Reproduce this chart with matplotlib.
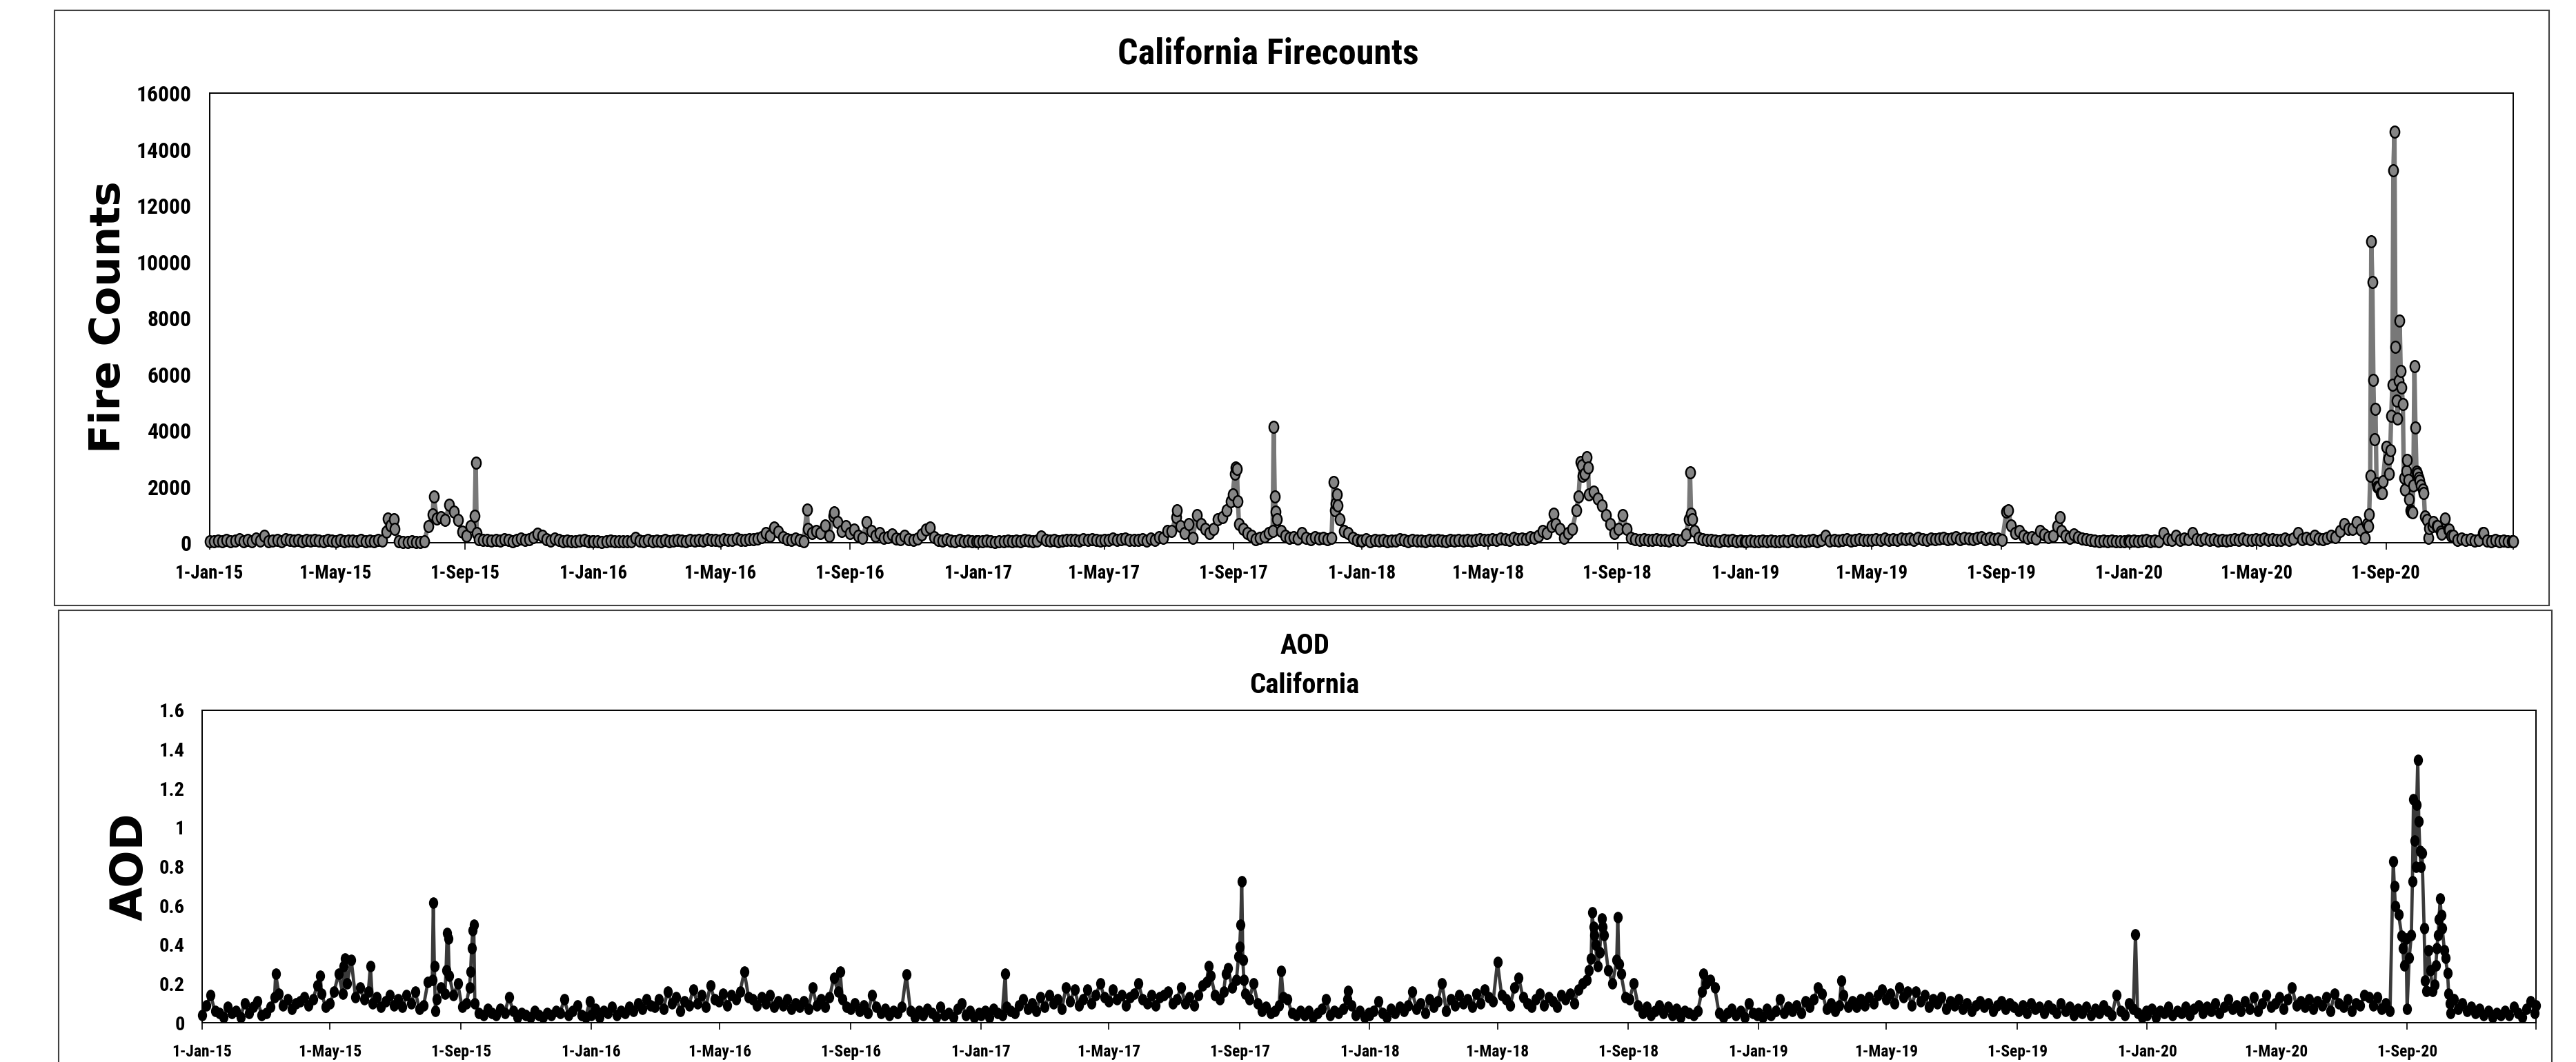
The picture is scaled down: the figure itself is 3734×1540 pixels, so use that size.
import numpy as np
import pandas as pd
import matplotlib
matplotlib.use("Agg")
import matplotlib.pyplot as plt
import matplotlib.dates as mdates
from matplotlib.path import Path
from matplotlib.patches import Rectangle
from matplotlib import font_manager as fm

# ---------------- DATA ----------------
# Fire counts sampled every 4 days from 1 January of each year (92 values per year)
fire_2015 = [60, 40, 80, 50, 90, 40, 70, 120,
             60, 90, 50, 150, 70, 250, 60,
             80, 100, 60, 120, 90, 70, 100, 60,
             90, 70, 110, 80, 60, 100, 70,
             60, 90, 50, 80, 70, 60, 90, 50,
             70, 60, 90, 80, 400, 620, 500, 40,
             30, 20, 40, 20, 30, 60, 600,
             1000, 870, 910, 800, 1350, 1100, 800, 400,
             250, 580, 950, 130, 90, 110, 70, 90,
             80, 120, 100, 60, 90, 150, 110,
             130, 200, 330, 250, 120, 80, 150, 90,
             60, 80, 50, 40, 70, 90, 50, 40]
fire_2016 = [40, 60, 30, 50, 70, 40, 60, 50,
             60, 40, 170, 80, 50, 90, 60,
             70, 50, 90, 60, 80, 100, 70, 60,
             90, 70, 100, 80, 120, 90, 110,
             80, 120, 100, 90, 140, 110, 100, 130,
             120, 150, 200, 335, 250, 540, 400, 200,
             120, 90, 150, 100, 60, 500, 335,
             417, 335, 620, 254, 950, 745, 417, 580,
             335, 460, 254, 170, 745, 417, 254, 335,
             170, 200, 295, 150, 120, 254, 130,
             90, 150, 300, 460, 540, 200, 100, 80,
             120, 80, 60, 90, 50, 70, 40, 60]
fire_2017 = [60, 40, 80, 50, 30, 60, 40, 70,
             50, 80, 60, 90, 70, 50, 80,
             213, 90, 70, 100, 60, 80, 110, 90,
             100, 80, 120, 90, 130, 100, 80,
             110, 90, 140, 100, 120, 150, 110, 90,
             90, 120, 80, 150, 110, 200, 170, 420,
             420, 910, 600, 335, 660, 170, 990,
             660, 500, 335, 500, 826, 910, 1150, 1480,
             2460, 660, 500, 335, 254, 130, 170, 213,
             335, 420, 826, 420, 254, 170, 200,
             150, 335, 170, 120, 200, 150, 170, 120,
             170, 1400, 826, 420, 335, 170, 100, 80]
fire_2018 = [80, 120, 60, 100, 70, 90, 60, 80,
             70, 130, 90, 60, 100, 80, 70,
             60, 90, 70, 100, 80, 60, 90, 70,
             90, 70, 110, 80, 100, 120, 90,
             100, 130, 90, 150, 120, 110, 170, 130,
             150, 120, 200, 170, 250, 420, 335, 600,
             660, 500, 170, 335, 500, 1150, 2870,
             2460, 1726, 1810, 1560, 1320, 990, 660, 335,
             500, 990, 500, 170, 130, 100, 120, 90,
             100, 130, 90, 110, 80, 120, 100,
             90, 300, 2500, 420, 170, 120, 90, 110,
             80, 60, 90, 70, 100, 60, 80, 50]
fire_2019 = [50, 70, 40, 60, 80, 50, 70, 60,
             40, 70, 60, 90, 50, 80, 60,
             70, 100, 60, 90, 254, 80, 100, 70,
             90, 120, 80, 100, 130, 90, 110,
             100, 120, 90, 140, 110, 130, 100, 150,
             120, 150, 100, 170, 130, 110, 150, 120,
             140, 170, 120, 150, 200, 130, 170,
             150, 120, 170, 200, 130, 160, 120, 150,
             90, 1112, 620, 335, 420, 254, 170, 200,
             150, 420, 295, 200, 254, 580, 420,
             254, 170, 295, 200, 150, 120, 90, 70,
             60, 80, 50, 70, 40, 60, 50, 70]
fire_2020 = [60, 80, 50, 70, 90, 60, 70, 50,
             335, 120, 100, 254, 90, 150, 120,
             335, 130, 100, 150, 90, 120, 80, 110,
             80, 100, 130, 90, 150, 110, 90,
             120, 100, 150, 90, 130, 110, 100, 140,
             100, 150, 335, 120, 170, 130, 254, 150,
             130, 170, 254, 200, 420, 660, 500,
             500, 745, 460, 170, 1005, 5797, 2000, 1763,
             3415, 3277, 14637, 5756, 4943, 2933, 1100, 4103,
             2200, 1763, 179, 600, 592, 400, 867,
             454, 248, 110, 150, 90, 120, 70, 100,
             344, 80, 60, 100, 50, 70, 40, 60]

# Fire counts on individual days (spikes and fire episodes)
fire_event_dates = [
    "2015-06-19", "2015-06-25", "2015-08-02", "2015-09-11", "2015-09-12",
    "2016-07-22", "2016-08-17",
    "2017-07-09", "2017-08-31", "2017-09-03", "2017-09-04", "2017-09-05",
    "2017-10-09", "2017-10-10", "2017-10-11", "2017-12-05", "2017-12-06",
    "2017-12-08", "2017-12-09",
    "2018-07-02", "2018-07-26", "2018-07-29", "2018-07-30", "2018-08-03",
    "2018-08-04", "2018-11-08", "2018-11-10", "2018-11-11",
    "2019-09-08", "2019-10-27",
    "2020-08-14", "2020-08-15", "2020-08-17", "2020-08-18", "2020-08-19",
    "2020-08-20", "2020-08-21", "2020-08-22", "2020-08-23", "2020-08-25",
    "2020-08-27", "2020-08-29",
    "2020-09-01", "2020-09-03", "2020-09-04", "2020-09-05", "2020-09-06",
    "2020-09-07", "2020-09-08", "2020-09-09", "2020-09-10", "2020-09-11",
    "2020-09-12", "2020-09-13", "2020-09-14", "2020-09-15", "2020-09-16",
    "2020-09-17", "2020-09-18", "2020-09-19", "2020-09-20", "2020-09-21",
    "2020-09-22", "2020-09-23", "2020-09-24", "2020-09-26", "2020-09-27",
    "2020-09-28", "2020-09-29", "2020-09-30",
    "2020-10-01", "2020-10-02", "2020-10-04", "2020-10-06", "2020-10-07",
    "2020-10-08", "2020-10-10", "2020-10-11", "2020-10-12", "2020-10-16",
    "2020-10-20", "2020-10-24", "2020-10-27", "2020-10-30", "2020-11-02",
    "2020-12-03", "2020-12-31"]
fire_event_vals = [
    870, 840, 1644, 2850, 335,
    1170, 1090,
    1150, 1726, 2670, 2625, 1480,
    4115, 1644, 1112, 2150, 1150,
    1726, 1320,
    1030, 1644, 2750, 2380, 3035,
    2670, 826, 1030, 826,
    1150, 910,
    660, 592, 2382, 10713, 9267,
    5797, 3690, 4764, 2107, 1969,
    1763, 2176,
    3415, 3002, 2451, 3277, 4517,
    5618, 13260, 14637, 6968, 5054,
    4407, 5756, 7890, 6100, 5522,
    4943, 2313, 1900, 2548, 2933,
    2244, 1556, 1143, 1074, 2038,
    6279, 4103, 2520,
    2451, 2313, 2038, 1900, 1763,
    936, 800, 179, 523, 730,
    592, 316, 867, 454, 248,
    344, 50]

# AOD sampled every 4 days from 1 January of each year (92 values per year)
aod_2015 = [0.04, 0.09, 0.14, 0.06, 0.05, 0.03, 0.08, 0.05,
            0.06, 0.03, 0.10, 0.05, 0.08, 0.11, 0.04,
            0.05, 0.08, 0.13, 0.15, 0.09, 0.12, 0.07, 0.10,
            0.11, 0.13, 0.09, 0.12, 0.19, 0.15, 0.08,
            0.10, 0.16, 0.19, 0.15, 0.20, 0.17, 0.13, 0.18,
            0.12, 0.16, 0.10, 0.13, 0.08, 0.11, 0.14, 0.09,
            0.12, 0.08, 0.14, 0.10, 0.16, 0.07, 0.09,
            0.21, 0.26, 0.12, 0.18, 0.15, 0.24, 0.14, 0.20,
            0.08, 0.10, 0.26, 0.10, 0.05, 0.04, 0.07, 0.05,
            0.04, 0.07, 0.05, 0.13, 0.06, 0.03, 0.05,
            0.04, 0.03, 0.06, 0.04, 0.03, 0.05, 0.04, 0.06,
            0.05, 0.12, 0.04, 0.06, 0.09, 0.04, 0.03, 0.11]
aod_2016 = [0.04, 0.07, 0.03, 0.06, 0.05, 0.08, 0.04, 0.06,
            0.05, 0.08, 0.06, 0.10, 0.07, 0.12, 0.09,
            0.08, 0.12, 0.07, 0.16, 0.10, 0.13, 0.06, 0.11,
            0.09, 0.17, 0.10, 0.14, 0.08, 0.19, 0.12,
            0.11, 0.15, 0.09, 0.14, 0.12, 0.16, 0.10, 0.13,
            0.12, 0.09, 0.13, 0.10, 0.14, 0.08, 0.11, 0.09,
            0.12, 0.07, 0.10, 0.08, 0.11, 0.07, 0.18,
            0.09, 0.12, 0.08, 0.13, 0.23, 0.16, 0.12, 0.08,
            0.07, 0.10, 0.06, 0.09, 0.05, 0.14, 0.08, 0.05,
            0.07, 0.04, 0.06, 0.05, 0.08, 0.04, 0.06,
            0.03, 0.06, 0.04, 0.07, 0.05, 0.03, 0.08, 0.04,
            0.05, 0.03, 0.07, 0.10, 0.04, 0.06, 0.03, 0.05]
aod_2017 = [0.04, 0.06, 0.03, 0.07, 0.05, 0.04, 0.08, 0.06,
            0.05, 0.09, 0.12, 0.07, 0.10, 0.06, 0.13,
            0.08, 0.14, 0.10, 0.12, 0.07, 0.18, 0.11, 0.17,
            0.09, 0.12, 0.17, 0.10, 0.14, 0.20, 0.13,
            0.11, 0.17, 0.12, 0.14, 0.09, 0.13, 0.15, 0.20,
            0.12, 0.10, 0.14, 0.09, 0.13, 0.14, 0.16, 0.10,
            0.12, 0.18, 0.10, 0.13, 0.09, 0.14, 0.19,
            0.21, 0.24, 0.14, 0.12, 0.16, 0.28, 0.18, 0.22,
            0.50, 0.15, 0.12, 0.20, 0.10, 0.06, 0.08, 0.05,
            0.06, 0.09, 0.13, 0.12, 0.05, 0.04, 0.06,
            0.04, 0.06, 0.03, 0.05, 0.07, 0.12, 0.04, 0.06,
            0.05, 0.07, 0.12, 0.09, 0.04, 0.06, 0.03, 0.05]
aod_2018 = [0.04, 0.06, 0.11, 0.05, 0.03, 0.07, 0.05, 0.08,
            0.06, 0.09, 0.16, 0.07, 0.10, 0.05, 0.12,
            0.08, 0.11, 0.20, 0.06, 0.12, 0.09, 0.14, 0.10,
            0.12, 0.08, 0.15, 0.10, 0.17, 0.13, 0.11,
            0.10, 0.14, 0.12, 0.09, 0.18, 0.23, 0.13, 0.10,
            0.08, 0.12, 0.15, 0.09, 0.13, 0.11, 0.08, 0.14,
            0.12, 0.15, 0.10, 0.17, 0.20, 0.22, 0.33,
            0.40, 0.36, 0.45, 0.27, 0.20, 0.32, 0.25, 0.13,
            0.12, 0.20, 0.09, 0.05, 0.08, 0.04, 0.06, 0.09,
            0.05, 0.08, 0.04, 0.07, 0.03, 0.06, 0.05,
            0.04, 0.06, 0.16, 0.20, 0.22, 0.18, 0.05, 0.03,
            0.05, 0.07, 0.04, 0.06, 0.03, 0.10, 0.05, 0.04]
aod_2019 = [0.05, 0.03, 0.07, 0.04, 0.06, 0.12, 0.05, 0.08,
            0.06, 0.09, 0.05, 0.11, 0.08, 0.12, 0.18,
            0.15, 0.07, 0.10, 0.06, 0.09, 0.14, 0.08, 0.11,
            0.08, 0.12, 0.09, 0.13, 0.10, 0.14, 0.17,
            0.12, 0.15, 0.10, 0.18, 0.13, 0.16, 0.09, 0.16,
            0.11, 0.14, 0.08, 0.12, 0.10, 0.13, 0.07, 0.11,
            0.09, 0.12, 0.07, 0.10, 0.06, 0.09, 0.11,
            0.08, 0.10, 0.06, 0.09, 0.11, 0.07, 0.10, 0.08,
            0.06, 0.09, 0.05, 0.10, 0.07, 0.08, 0.05, 0.09,
            0.07, 0.05, 0.10, 0.06, 0.08, 0.04, 0.07,
            0.05, 0.08, 0.04, 0.07, 0.05, 0.09, 0.06, 0.04,
            0.14, 0.06, 0.04, 0.10, 0.07, 0.05, 0.03, 0.06]
aod_2020 = [0.04, 0.07, 0.03, 0.06, 0.05, 0.08, 0.04, 0.06,
            0.05, 0.08, 0.04, 0.07, 0.09, 0.05, 0.08,
            0.06, 0.10, 0.05, 0.08, 0.12, 0.07, 0.09, 0.06,
            0.11, 0.07, 0.13, 0.06, 0.10, 0.14, 0.08,
            0.10, 0.13, 0.07, 0.12, 0.18, 0.09, 0.11, 0.08,
            0.12, 0.07, 0.11, 0.09, 0.13, 0.06, 0.15, 0.10,
            0.08, 0.12, 0.06, 0.10, 0.09, 0.14, 0.13,
            0.09, 0.13, 0.07, 0.10, 0.06, 0.70, 0.55, 0.38,
            0.072, 0.45, 0.80, 0.88, 0.483, 0.372, 0.163, 0.38,
            0.55, 0.333, 0.10, 0.12, 0.07, 0.10, 0.06,
            0.08, 0.05, 0.07, 0.04, 0.06, 0.03, 0.05, 0.04,
            0.06, 0.04, 0.08, 0.05, 0.03, 0.07, 0.11, 0.05]

# AOD on individual days (spikes and smoke episodes)
aod_event_dates = [
    "2015-03-11", "2015-04-22", "2015-05-09", "2015-05-14", "2015-05-15",
    "2015-05-21", "2015-06-08", "2015-08-05", "2015-08-06", "2015-08-07",
    "2015-08-08", "2015-08-18", "2015-08-19", "2015-08-20", "2015-09-09",
    "2015-09-11", "2015-09-12", "2015-09-13",
    "2016-05-24", "2016-08-22", "2016-10-23",
    "2017-01-24", "2017-08-03", "2017-08-19", "2017-08-31", "2017-09-01",
    "2017-09-02", "2017-09-03", "2017-09-04", "2017-09-05", "2017-10-10",
    "2017-12-12",
    "2018-05-01", "2018-07-26", "2018-07-29", "2018-07-30", "2018-07-31",
    "2018-08-03", "2018-08-07", "2018-08-08", "2018-08-22", "2018-08-23",
    "2018-11-10",
    "2019-03-20", "2019-12-21",
    "2020-08-19", "2020-08-21", "2020-08-24", "2020-08-27", "2020-08-29",
    "2020-08-31", "2020-09-01", "2020-09-03", "2020-09-06", "2020-09-07",
    "2020-09-08", "2020-09-09", "2020-09-10", "2020-09-11", "2020-09-12",
    "2020-09-13", "2020-09-14", "2020-09-15", "2020-09-17", "2020-09-18",
    "2020-09-19", "2020-09-21", "2020-09-23", "2020-09-25", "2020-09-27",
    "2020-09-28", "2020-09-30", "2020-10-01", "2020-10-02", "2020-10-04",
    "2020-10-06", "2020-10-07", "2020-10-09", "2020-10-10", "2020-10-12",
    "2020-12-31"]
aod_event_vals = [
    0.25, 0.24, 0.25, 0.29, 0.33,
    0.32, 0.29, 0.22, 0.613, 0.29,
    0.06, 0.27, 0.458, 0.43, 0.18,
    0.38, 0.475, 0.50,
    0.26, 0.26, 0.246,
    0.252, 0.29, 0.25, 0.34, 0.387,
    0.50, 0.723, 0.32, 0.22, 0.264,
    0.164,
    0.31, 0.27, 0.564, 0.49, 0.45,
    0.29, 0.534, 0.49, 0.54, 0.30,
    0.25,
    0.216, 0.453,
    0.827, 0.597, 0.555, 0.444, 0.294,
    0.43, 0.072, 0.333, 0.725, 1.143,
    0.934, 0.80, 1.117, 1.346, 1.032,
    0.88, 0.80, 0.87, 0.483, 0.216,
    0.163, 0.372, 0.268, 0.163, 0.196,
    0.294, 0.45, 0.53, 0.634, 0.483,
    0.372, 0.333, 0.255, 0.15, 0.05,
    0.09]

years = [2015, 2016, 2017, 2018, 2019, 2020]
fire_ticks = [0, 2000, 4000, 6000, 8000, 10000, 12000, 14000, 16000]
aod_ticks = [0, 0.2, 0.4, 0.6, 0.8, 1.0, 1.2, 1.4, 1.6]
aod_tick_labels = ["0", "0.2", "0.4", "0.6", "0.8", "1", "1.2", "1.4", "1.6"]
tick_months = [1, 5, 9]

# ---------------- BUILD SERIES ----------------
def build(grids, ev_dates, ev_vals):
    assert len(ev_dates) == len(ev_vals)
    parts = []
    for year, arr in zip(years, grids):
        assert len(arr) == 92, (year, len(arr))
        idx = pd.date_range(f"{year}-01-01", periods=len(arr), freq="4D")
        parts.append(pd.Series(arr, index=idx, dtype=float))
    parts.append(pd.Series(ev_vals, index=pd.to_datetime(ev_dates), dtype=float))
    s = pd.concat(parts)
    s = s[~s.index.duplicated(keep="last")].sort_index()
    return s

fire = build([fire_2015, fire_2016, fire_2017, fire_2018, fire_2019, fire_2020],
             fire_event_dates, fire_event_vals)
aod = build([aod_2015, aod_2016, aod_2017, aod_2018, aod_2019, aod_2020],
            aod_event_dates, aod_event_vals)

# ---------------- FONTS ----------------
# Prefer a condensed face (closer to the reference's narrow bold font) if installed.
_installed = {f.name for f in fm.fontManager.ttflist}
if "Roboto Condensed" in _installed:
    SANS = ["Roboto Condensed", "DejaVu Sans"]
    SCALE = 1.17
elif "Liberation Sans Narrow" in _installed:
    SANS = ["Liberation Sans Narrow", "DejaVu Sans"]
    SCALE = 1.2
else:
    SANS = ["Liberation Sans", "DejaVu Sans"]
    SCALE = 1.0
WIDE = ["DejaVu Sans"]

# ---------------- FIGURE ----------------
W, H = 3734, 1540
DPI = 100
fig = plt.figure(figsize=(W / DPI, H / DPI), dpi=DPI)
fig.patch.set_facecolor("white")

# chart-area frames
fig.add_artist(Rectangle((79 / W, 1 - 878 / H), (3695 - 79) / W, (878 - 15) / H,
                         transform=fig.transFigure, fill=False,
                         edgecolor="#404040", lw=1.5))
fig.add_artist(Rectangle((85 / W, -0.02), (3699 - 85) / W, 1 - 885 / H + 0.02,
                         transform=fig.transFigure, fill=False,
                         edgecolor="#404040", lw=1.5))

ax1 = fig.add_axes([304 / W, 1 - 787 / H, (3643 - 304) / W, (787 - 135) / H])
ax2 = fig.add_axes([293 / W, 1 - 1483 / H, (3676 - 293) / W, (1483 - 1030) / H])

circ = Path.unit_circle()
fire_marker = Path(circ.vertices * np.array([0.8, 1.0]), circ.codes)
aod_marker = Path(circ.vertices * np.array([0.78, 1.0]), circ.codes)

ax1.plot(mdates.date2num(fire.index.to_pydatetime()), fire.values,
         color="#787878", lw=4.6, marker=fire_marker, ms=12.0,
         mfc="#858585", mec="black", mew=1.7, clip_on=False, zorder=3)
ax2.plot(mdates.date2num(aod.index.to_pydatetime()), aod.values,
         color="#3a3a3a", lw=3.4, marker=aod_marker, ms=11.0,
         mfc="black", mec="black", mew=1.0, clip_on=False, zorder=3)

tick_dates = [pd.Timestamp(y, m, 1) for y in years for m in tick_months]
tick_labels = [f"{d.day}-{d.strftime('%b')}-{d.strftime('%y')}" for d in tick_dates]
xmin = mdates.date2num(pd.Timestamp("2015-01-01").to_pydatetime())
xmax = mdates.date2num(pd.Timestamp("2020-12-31").to_pydatetime())
xt = [mdates.date2num(d.to_pydatetime()) for d in tick_dates] + [xmax]

def style(ax, yticks, ylabels, fs_x, fs_y, ypad):
    ax.set_xlim(xmin, xmax)
    ax.set_ylim(yticks[0], yticks[-1])
    ax.set_xticks(xt)
    ax.set_xticklabels(tick_labels + [""], fontsize=fs_x * SCALE,
                       fontweight="bold", family=SANS)
    ax.set_yticks(yticks)
    ax.set_yticklabels(ylabels, fontsize=fs_y * SCALE, fontweight="bold",
                       family=SANS)
    ax.tick_params(axis="x", direction="out", length=7, width=1.2, pad=15,
                   colors="black")
    ax.tick_params(axis="y", length=0, pad=ypad)
    for sp in ax.spines.values():
        sp.set_color("black")
        sp.set_linewidth(1.4)
    ax.set_facecolor("white")

style(ax1, fire_ticks, [str(v) for v in fire_ticks], 16.5, 19.5, 19)
style(ax2, aod_ticks, aod_tick_labels, 14.5, 17.5, 18)

# titles and axis labels
fig.text(1838 / W, 1 - 79 / H, "California Firecounts", ha="center", va="center",
         fontsize=32 * SCALE, fontweight="bold", family=SANS)
fig.text(1891 / W, 1 - 937 / H, "AOD", ha="center", va="center",
         fontsize=25 * SCALE, fontweight="bold", family=SANS)
fig.text(1891 / W, 1 - 994 / H, "California", ha="center", va="center",
         fontsize=25 * SCALE, fontweight="bold", family=SANS)
fig.text(157 / W, 1 - 460 / H, "Fire Counts", rotation=90, ha="center",
         va="center", fontsize=44, fontweight="bold", family=WIDE)
fig.text(189 / W, 1 - 1257 / H, "AOD", rotation=90, ha="center",
         va="center", fontsize=46, fontweight="bold", family=WIDE)

fig.savefig("out.png", dpi=DPI, facecolor="white")
